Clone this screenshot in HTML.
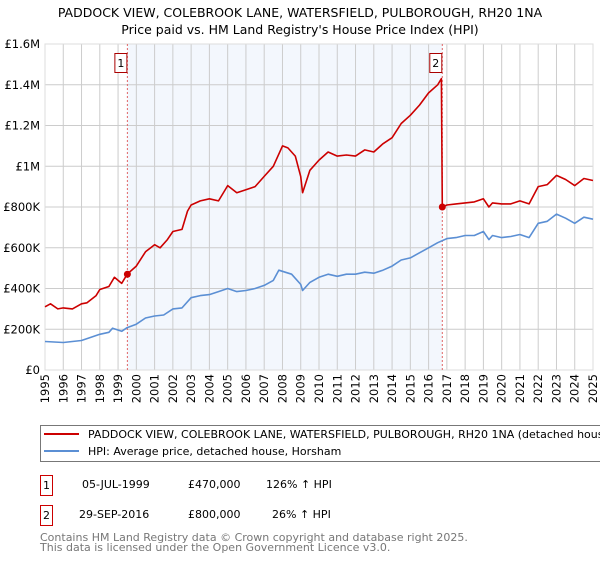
<!DOCTYPE html>
<html><head><meta charset="utf-8"><style>
body{margin:0;background:#fff;font-family:"Liberation Sans","DejaVu Sans",sans-serif;}
svg text{font-family:"DejaVu Sans","Liberation Sans",sans-serif;}
</style></head><body>
<svg id="c" width="600" height="560" xmlns="http://www.w3.org/2000/svg">
<text x="300" y="17" text-anchor="middle" font-size="12.5" fill="#000">PADDOCK VIEW, COLEBROOK LANE, WATERSFIELD, PULBOROUGH, RH20 1NA</text>
<text x="300" y="34" text-anchor="middle" font-size="12.5" fill="#000">Price paid vs. HM Land Registry's House Price Index (HPI)</text>
<g id="plot"></g>
<g>
<rect x="40.5" y="425.5" width="570" height="36" fill="#fff" stroke="#777"/>
<line x1="44" y1="434" x2="79" y2="434" stroke="#cc0000" stroke-width="2"/>
<text x="88" y="438" font-size="11">PADDOCK VIEW, COLEBROOK LANE, WATERSFIELD, PULBOROUGH, RH20 1NA (detached house)</text>
<line x1="44" y1="451" x2="79" y2="451" stroke="#5b8fd4" stroke-width="2"/>
<text x="88" y="455" font-size="11">HPI: Average price, detached house, Horsham</text>
</g>
<g>
<rect x="40.5" y="475.5" width="12" height="20" fill="#fff" stroke="#cc0000"/>
<text x="46.5" y="489" font-size="11" text-anchor="middle">1</text>
<text x="82" y="488" font-size="11">05-JUL-1999</text>
<text x="188" y="488" font-size="11">£470,000</text>
<text x="266" y="488" font-size="11">126% ↑ HPI</text>
<rect x="40.5" y="505.5" width="12" height="20" fill="#fff" stroke="#cc0000"/>
<text x="46.5" y="519" font-size="11" text-anchor="middle">2</text>
<text x="79" y="518" font-size="11">29-SEP-2016</text>
<text x="188" y="518" font-size="11">£800,000</text>
<text x="272" y="518" font-size="11">26% ↑ HPI</text>
</g>
<text x="40" y="541" font-size="11" fill="#777">Contains HM Land Registry data © Crown copyright and database right 2025.</text>
<text x="40" y="551" font-size="11" fill="#777">This data is licensed under the Open Government Licence v3.0.</text>
</svg>
<script>
const yTicks=[0,200,400,600,800,1000,1200,1400,1600];
const yTickLabels=["£0","£200K","£400K","£600K","£800K","£1M","£1.2M","£1.4M","£1.6M"];
const xYears=[1995,1996,1997,1998,1999,2000,2001,2002,2003,2004,2005,2006,2007,2008,2009,2010,2011,2012,2013,2014,2015,2016,2017,2018,2019,2020,2021,2022,2023,2024,2025];
const hpiT=[1995,1996,1997,1997.5,1998,1998.5,1998.7,1999.2,1999.5,2000,2000.5,2001,2001.5,2002,2002.5,2003,2003.5,2004,2004.5,2005,2005.5,2006,2006.5,2007,2007.5,2007.8,2008.5,2009,2009.1,2009.5,2010,2010.5,2011,2011.5,2012,2012.5,2013,2013.5,2014,2014.5,2015,2015.5,2016,2016.5,2017,2017.5,2018,2018.5,2019,2019.3,2019.5,2020,2020.5,2021,2021.5,2022,2022.5,2023,2023.5,2024,2024.5,2025];
const hpiV=[140,135,145,160,175,185,205,190,208,225,255,265,270,300,305,355,365,370,385,400,385,390,400,415,440,490,470,420,390,430,455,470,460,470,470,480,475,490,510,540,550,575,600,625,645,650,660,660,680,640,660,650,655,665,650,720,730,765,745,720,750,740];
const redT=[1995,1995.3,1995.7,1996,1996.5,1997,1997.3,1997.8,1998,1998.5,1998.8,1999.2,1999.5,2000,2000.5,2001,2001.3,2001.7,2002,2002.5,2002.8,2003,2003.5,2004,2004.5,2005,2005.5,2006,2006.5,2007,2007.5,2008,2008.3,2008.7,2009,2009.1,2009.5,2010,2010.5,2011,2011.5,2012,2012.5,2013,2013.5,2014,2014.5,2015,2015.5,2016,2016.5,2016.7,2016.75,2017,2017.5,2018,2018.5,2019,2019.3,2019.5,2020,2020.5,2021,2021.5,2022,2022.5,2023,2023.5,2024,2024.5,2025];
const redV=[310,325,300,305,300,325,330,365,395,410,455,425,470,510,580,615,600,640,680,690,780,810,830,840,830,905,870,885,900,950,1000,1100,1090,1050,950,870,980,1030,1070,1050,1055,1050,1080,1070,1110,1140,1210,1250,1300,1360,1400,1430,800,810,815,820,825,840,800,820,815,815,830,815,900,910,955,935,905,940,930];
const saleT=[1999.51,2016.75];
const saleV=[470,800];
const saleLabels=["1","2"];

const NS="http://www.w3.org/2000/svg";
const X0=45,X1=593,Y0=370,Y1=44;
const xs=t=>X0+(t-1995)/30*(X1-X0);
const ys=v=>Y0-v/1600*(Y0-Y1);
const g=document.getElementById('plot');
function mk(tag,at){const e=document.createElementNS(NS,tag);for(const k in at)e.setAttribute(k,at[k]);g.appendChild(e);return e;}
let sh=mk('rect',{x:xs(saleT[0]),y:Y1,width:xs(saleT[1])-xs(saleT[0]),height:Y0-Y1,fill:'#eef3fc',opacity:0.7});


yTicks.forEach((v,i)=>{
 let l=mk('line',{x1:X0,x2:X1,y1:ys(v),y2:ys(v),stroke:'#ccc','stroke-width':1});
 
 
 let t=mk('text',{x:40,y:ys(v)+4,'text-anchor':'end','font-size':11.5});
 t.textContent=yTickLabels[i];
 
 
});
xYears.forEach(y=>{
 let l=mk('line',{x1:xs(y),x2:xs(y),y1:Y1,y2:Y0,stroke:'#ccc','stroke-width':1});
 
 
 let t=mk('text',{x:0,y:0,'text-anchor':'end','font-size':11.5,transform:`translate(${xs(y)+4},${Y0+4}) rotate(-90)`});
 t.textContent=y;
 
 
});
let bd=mk('rect',{x:X0,y:Y1,width:X1-X0,height:Y0-Y1,fill:'none',stroke:'#ddd'});


saleT.forEach((t,i)=>{
 let l=mk('line',{x1:xs(t),x2:xs(t),y1:Y1,y2:Y0,stroke:'#e06666','stroke-width':1,'stroke-dasharray':'2,2'});
 
 
});
function path(T,V,col,name){
 let d=T.map((t,i)=>(i?'L':'M')+xs(t).toFixed(1)+','+ys(V[i]).toFixed(1)).join('');
 let p=mk('path',{d:d,fill:'none',stroke:col,'stroke-width':1.6,'stroke-linejoin':'round'});
 
 
}
path(hpiT,hpiV,'#5b8fd4','hpi-line');
path(redT,redV,'#cc0000','property-price-line');
saleT.forEach((t,i)=>{
 let c=mk('circle',{cx:xs(t),cy:ys(saleV[i]),r:3.5,fill:'#cc0000'});
 
 
 let r=mk('rect',{x:xs(t)-12.5,y:53.5,width:12,height:19,fill:'#fff',stroke:'#aa0000'});
 
 
 let tx=mk('text',{x:xs(t)-6.5,y:67,'text-anchor':'middle','font-size':11});
 tx.textContent=saleLabels[i];
 
 
});
</script>
</body></html>
